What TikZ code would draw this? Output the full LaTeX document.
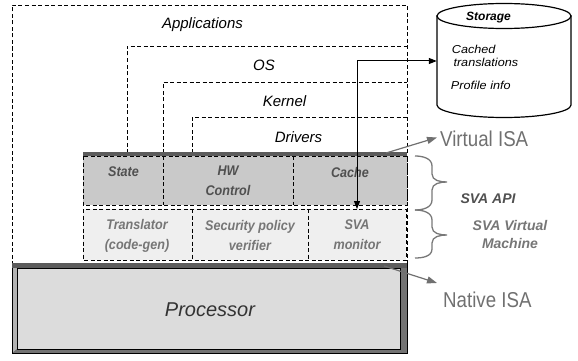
\documentclass[tikz,border=0pt]{standalone}
\usepackage{fontspec}
\setmainfont{Liberation Sans}
\newfontfamily\narrowsans{Liberation Sans}[FakeStretch=0.9]
\newfontfamily\widesans{Liberation Sans}[FakeStretch=1.1]
\newfontfamily\isasans{Liberation Sans}[FakeStretch=0.87]
\usetikzlibrary{arrows.meta}

\definecolor{apifill}{HTML}{C9C9C9}
\definecolor{vmfill}{HTML}{EFEFEF}
\definecolor{procfill}{HTML}{DCDCDC}
\definecolor{bargray}{HTML}{5C5C5C}
\definecolor{darklbl}{HTML}{505050}
\definecolor{lightlbl}{HTML}{767676}
\definecolor{isagray}{HTML}{707070}
\definecolor{bracegray}{HTML}{787878}

\tikzset{
  layer/.style={draw=black, line width=0.8pt, dash pattern=on 4pt off 2.5pt},
  bar/.style={draw=bargray, line width=4pt},
  layerlbl/.style={inner sep=0pt, anchor=base, font=\fontsize{15}{18}\selectfont\itshape},
  celllbl/.style={inner sep=0pt, align=center, font=\narrowsans\fontsize{14}{20}\selectfont\bfseries\itshape},
  apilbl/.style={celllbl, text=darklbl},
  vmlbl/.style={celllbl, text=lightlbl},
  cyl/.style={draw=black, line width=1.2pt},
  storetxt/.style={inner sep=0pt, anchor=base west, font=\widesans\fontsize{11.5}{14}\selectfont\itshape},
  isalbl/.style={inner sep=0pt, anchor=west, text=isagray, font=\isasans\fontsize{21.5}{24}\selectfont},
  isaarrow/.style={draw=isagray, line width=1.2pt, -{Triangle[length=10pt,width=7pt]}},
  sidelbl/.style={inner sep=0pt, align=center, font=\fontsize{14}{18}\selectfont\bfseries\itshape},
  curly/.style={draw=bracegray, line width=1.3pt},
  link/.style={draw=black, line width=1pt, {Triangle[length=8pt,width=6pt]}-{Triangle[length=8pt,width=6pt]}}
}

\begin{document}
\begin{tikzpicture}[x=1pt, y=-1pt]
\useasboundingbox (0,0) rectangle (578,361);

% nested software layers
\draw[layer] (12,265) -- (12,5) -- (407,5) -- (407,265);
\draw[layer] (127,153) -- (127,46) -- (407,46);
\draw[layer] (163,153) -- (163,82) -- (407,82);
\draw[layer] (192,153) -- (192,117) -- (407,117);

\node[layerlbl] (apps) at (202.5,28.3) {Applications};
\node[layerlbl] (os) at (264,70.7) {OS};
\node[layerlbl] (kernel) at (284.5,106) {Kernel};
\node[layerlbl] (drivers) at (298.5,142.7) {Drivers};

% SVA API row
\filldraw[layer, fill=apifill] (83,156) rectangle (407,205);
\draw[layer] (163,156) -- (163,205);
\draw[layer] (293,156) -- (293,205);
\draw[bar] (83,154) -- (407,154);

\node[apilbl, anchor=base] (state) at (123.5,176) {State};
\node[apilbl] (hwctl) at (228,181) {HW\\Control};
\node[apilbl, anchor=base] (cache) at (350,177) {Cache};

% SVA virtual machine row
\filldraw[layer, fill=vmfill] (83,209) rectangle (406,260);
\draw[layer] (192,209) -- (192,260);
\draw[layer] (308,209) -- (308,260);

\node[vmlbl] (translator) at (137,236) {Translator\\(code-gen)};
\node[vmlbl] (verifier) at (250,235) {Security policy\\verifier};
\node[vmlbl] (monitor) at (357,235) {SVA\\monitor};
\coordinate (montop) at (357,209);

% processor with bevelled frame
\filldraw[draw=black, line width=0.8pt, fill=procfill] (12,263) rectangle (407,353);
\fill[fill=black!30] (12,263) -- (17,268) -- (17,349) -- (12,353) -- cycle;
\fill[fill=black!55] (407,263) -- (400,268) -- (400,349) -- (17,349) -- (12,353) -- (407,353) -- cycle;
\draw[black, line width=0.6pt] (17,268) rectangle (400,349);
\draw[black, line width=0.8pt] (12,263) rectangle (407,353);
\draw[bar, line width=4.5pt] (12,265.5) -- (407,265.5);
\node[inner sep=0pt, text=black!80, font=\fontsize{20}{24}\selectfont\itshape] (proc) at (210,310) {Processor};

% storage cylinder
\filldraw[cyl, fill=white] (437,16) -- (437,105)
  arc[start angle=180, end angle=0, x radius=67, y radius=12.5] -- (571,16) -- cycle;
\filldraw[cyl, fill=white] (504,16) ellipse [x radius=67, y radius=12.5];
\node[inner sep=0pt, minimum width=134pt, minimum height=115pt] (storage) at (504,61) {};
\node[inner sep=0pt, anchor=base, font=\fontsize{12}{14}\selectfont\bfseries\itshape] (storetitle) at (488.5,20.5) {Storage};
\node[storetxt] (cached) at (451.7,53.3) {Cached};
\node[storetxt] (transl) at (453.3,66.7) {translations};
\node[storetxt] (profile) at (450.7,89) {Profile info};

\draw[link] (montop) |- (storage.west);

% instruction set boundaries
\node[isalbl] (visa) at (440,139) {Virtual ISA};
\node[isalbl] (nisa) at (443,299.5) {Native ISA};
\coordinate (vbar) at (386,153);
\coordinate (vtip) at (437,137.5);
\coordinate (nbar) at (384,266);
\coordinate (ntip) at (437,283);
\draw[isaarrow] (vbar) -- (vtip);
\draw[isaarrow] (nbar) -- (ntip);

% braces and their labels
\draw[curly] (415,156) to[out=0, in=90] (432,166) -- (432,174)
  to[out=-90, in=180] (447,182) to[out=180, in=90] (432,190) -- (432,200)
  to[out=-90, in=0] (415,210);
\draw[curly] (415,210) to[out=0, in=90] (432,220) -- (432,227)
  to[out=-90, in=180] (447,235) to[out=180, in=90] (432,243) -- (432,249)
  to[out=-90, in=0] (415,258);
\node[sidelbl, anchor=base, text=darklbl] (api) at (488,203) {SVA API};
\node[sidelbl, text=lightlbl] (svavm) at (510,234) {SVA Virtual\\Machine};
\end{tikzpicture}
\end{document}
